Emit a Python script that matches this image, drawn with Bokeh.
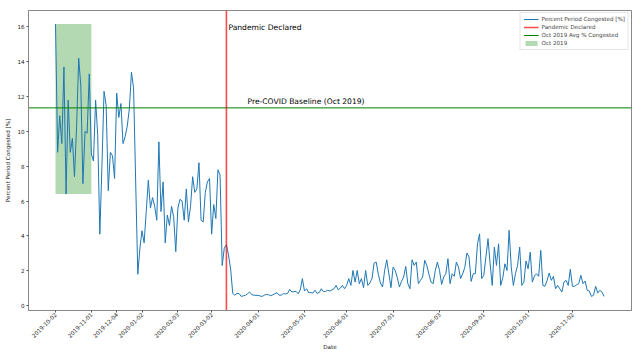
import math
from bokeh.plotting import figure
from bokeh.models import Range1d, FixedTicker, Legend, LegendItem, Label
from bokeh.embed import file_html
from bokeh.resources import INLINE

# ---- data ----
congested_before = [
    16.16, 8.8, 10.9, 9.3, 13.7, 6.4, 11.8, 8.8, 9.6, 7.4,
    10.3, 14.2, 12.6, 7.0, 10.0, 9.9, 13.3, 8.7, 8.3, 11.8,
    9.8, 4.1, 8.0, 12.3, 11.5, 6.6, 8.8, 8.6, 7.3, 12.2,
    10.8, 11.6, 9.3, 9.7, 10.3, 11.3, 13.4, 12.5, 7.1, 1.8,
    3.3, 4.3, 3.6, 5.4, 7.2, 5.6, 6.2, 5.7, 4.9, 9.4,
    5.4, 7.1, 3.6, 5.2, 4.6, 5.7, 5.1, 3.1, 5.6, 6.1,
    6.0, 4.9, 6.7, 4.8, 5.7, 7.4, 6.5, 6.7, 8.2, 4.9,
    4.8, 6.5, 7.1, 7.3, 4.1, 5.8, 5.0, 7.8, 7.5, 2.3,
    3.3, 3.5, 2.9, 2.1, 0.7, 0.6, 0.7,
]
congested_after = [
    0.69, 0.53, 0.56, 0.59, 0.68, 0.78, 0.63, 0.6, 0.59, 0.59,
    0.55, 0.53, 0.6, 0.65, 0.62, 0.57, 0.62, 0.68, 0.74, 0.6,
    0.6, 0.69, 0.67, 0.7, 0.93, 0.78, 0.8, 0.82, 0.68, 0.9,
    1.55, 0.84, 0.97, 0.74, 0.75, 0.72, 0.88, 0.7, 0.75, 0.97,
    0.8, 0.82, 0.88, 0.84, 0.9, 0.97, 1.16, 0.91, 1.0, 1.16,
    0.97, 1.16, 1.55, 1.16, 2.02, 1.35, 2.02, 1.26, 1.55, 1.03,
    2.02, 1.16, 1.3, 1.55, 2.44, 2.5, 1.8, 1.3, 1.07, 2.02,
    2.63, 1.83, 1.03, 2.21, 2.02, 1.6, 1.07, 1.4, 1.64, 2.25,
    1.26, 0.97, 2.63, 2.31, 2.5, 1.26, 1.45, 1.64, 2.6, 2.3,
    1.8, 1.35, 1.26, 2.02, 2.5, 2.02, 1.22, 1.64, 1.83, 2.69,
    1.26, 1.83, 1.68, 2.5, 2.21, 1.55, 1.83, 2.2, 3.02, 2.79,
    1.39, 1.83, 1.83, 3.55, 4.12, 1.55, 1.74, 2.79, 3.84, 2.4,
    1.16, 3.36, 2.31, 3.55, 1.16, 1.6, 2.4, 2.02, 4.32, 2.21,
    1.16, 1.83, 2.31, 3.36, 1.16, 1.35, 2.56, 2.12, 3.07, 1.35,
    1.7, 1.83, 1.68, 3.17, 1.16, 1.11, 1.45, 1.87, 1.45, 1.68,
    0.97, 1.16, 0.97, 0.78, 1.35, 1.45, 1.16, 2.08, 1.11, 1.11,
    1.2, 1.26, 1.74, 1.26, 1.41, 0.88, 0.84, 0.53, 0.59, 1.11,
    0.72, 0.88, 0.78, 0.53,
]
tick_index = [0, 17, 29, 41, 58, 74, 96, 118, 138, 160, 182, 203, 224, 245]
tick_labels = ["2019-10-02", "2019-11-01", "2019-12-04", "2020-01-02",
               "2020-02-03", "2020-03-02", "2020-04-01", "2020-05-01",
               "2020-06-01", "2020-07-01", "2020-08-03", "2020-09-01",
               "2020-10-01", "2020-11-02"]
y_ticks = [0, 2, 4, 6, 8, 10, 12, 14, 16]
pandemic_index = 81
oct_start, oct_end = 0, 17
oct_min, oct_max = 6.4, 16.16
oct_avg = 11.35

values = congested_before + congested_after
idx = list(range(len(values)))

FONT = "DejaVu Sans"
x_range = Range1d(-12.8, 273.0)
y_range = Range1d(-0.28, 16.94)

p = figure(width=640, height=353, output_backend="svg", toolbar_location=None,
           x_range=x_range, y_range=y_range,
           min_border_left=28, min_border_right=9, min_border_top=10,
           min_border_bottom=43)
p.background_fill_color = "white"
p.border_fill_color = "white"
p.outline_line_color = "#888888"
p.outline_line_width = 1
p.xgrid.visible = False
p.ygrid.visible = False

r_oct = p.quad(left=oct_start, right=oct_end, bottom=oct_min, top=oct_max,
               fill_color="green", fill_alpha=0.3, line_color=None)
r_line = p.line(idx, values, line_color="#1f77b4", line_width=1.0)
r_avg = p.segment(x0=x_range.start, y0=oct_avg, x1=x_range.end, y1=oct_avg,
                  line_color="green", line_width=1.0)
r_pan = p.segment(x0=pandemic_index, y0=y_range.start, x1=pandemic_index,
                  y1=y_range.end, line_color="red", line_alpha=0.7, line_width=1.6)

legend = Legend(items=[
    LegendItem(label="Percent Period Congested [%]", renderers=[r_line]),
    LegendItem(label="Pandemic Declared", renderers=[r_pan]),
    LegendItem(label="Oct 2019 Avg % Congested", renderers=[r_avg]),
    LegendItem(label="Oct 2019", renderers=[r_oct]),
], location="top_right")
legend.label_text_font = FONT
legend.label_text_font_size = "5.6px"
legend.glyph_width = 15
legend.glyph_height = 6
legend.label_height = 6
legend.label_standoff = 3
legend.spacing = 2
legend.padding = 3
legend.margin = 2
legend.border_line_color = "#cccccc"
legend.background_fill_alpha = 0.85
p.add_layout(legend)

p.add_layout(Label(x=pandemic_index, y=15.95, x_offset=2, text="Pandemic Declared",
                   text_font=FONT, text_font_size="7.6px", text_baseline="middle",
                   text_color="black"))
p.add_layout(Label(x=91, y=11.72, text="Pre-COVID Baseline (Oct 2019)",
                   text_font=FONT, text_font_size="7.6px", text_baseline="middle",
                   text_color="black"))

p.xaxis.ticker = FixedTicker(ticks=tick_index)
p.xaxis.major_label_overrides = {t: l for t, l in zip(tick_index, tick_labels)}
p.xaxis.major_label_orientation = math.pi / 4
p.yaxis.ticker = FixedTicker(ticks=y_ticks)
p.xaxis.axis_label = "Date"
p.yaxis.axis_label = "Percent Period Congested [%]"
for ax in (p.xaxis, p.yaxis):
    ax.axis_line_color = "#888888"
    ax.major_tick_line_color = "#555555"
    ax.minor_tick_line_color = None
    ax.major_tick_out = 2
    ax.major_tick_in = 0
    ax.major_label_text_font = FONT
    ax.major_label_text_font_size = "5.6px"
    ax.major_label_text_color = "#222222"
    ax.axis_label_text_font = FONT
    ax.axis_label_text_font_size = "5.6px"
    ax.axis_label_text_font_style = "normal"
    ax.axis_label_text_color = "#222222"
p.yaxis.major_label_standoff = 2
p.yaxis.axis_label_standoff = 3
p.xaxis.major_label_standoff = 1
p.xaxis.axis_label_standoff = 1

open("out.html", "w").write(file_html(p, INLINE))
